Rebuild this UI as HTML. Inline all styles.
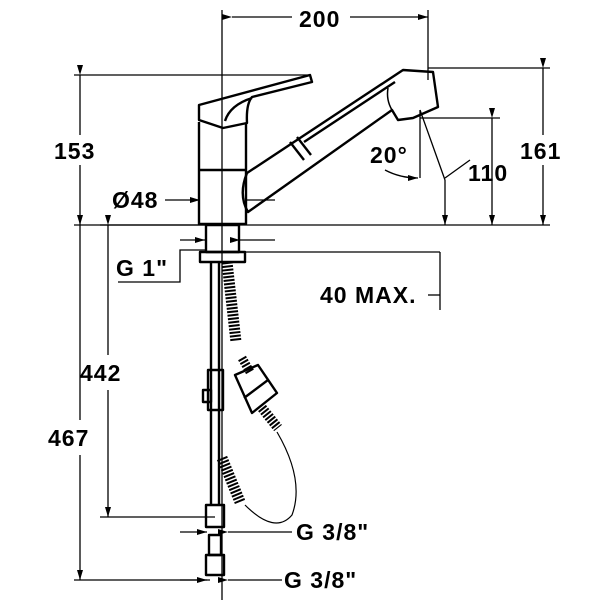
<!DOCTYPE html>
<html><head><style>body{margin:0;background:#fff}svg{display:block}text{font-family:"Liberation Sans",sans-serif;font-weight:bold;fill:#000;letter-spacing:1px}</style></head>
<body>
<svg width="600" height="600" viewBox="0 0 600 600" xmlns="http://www.w3.org/2000/svg">
<defs><marker id="a" markerWidth="10" markerHeight="6" refX="10" refY="3" orient="auto" markerUnits="userSpaceOnUse"><path d="M0,0 L10,3 L0,6z" fill="#000"/></marker></defs>
<g stroke="#000" stroke-width="1.3" fill="none">
<line x1="222" y1="10" x2="222" y2="600"/>
<line x1="428" y1="10" x2="428" y2="80"/>
<line x1="232" y1="17" x2="292" y2="17" marker-start="url(#a)"/>
<line x1="350" y1="17" x2="428" y2="17" marker-end="url(#a)"/>
<line x1="74" y1="75" x2="310" y2="75"/>
<line x1="74" y1="225" x2="550" y2="225"/>
<line x1="80" y1="75" x2="80" y2="135" marker-start="url(#a)"/>
<line x1="80" y1="165" x2="80" y2="225" marker-end="url(#a)"/>
<line x1="428" y1="68" x2="550" y2="68"/>
<line x1="543" y1="68" x2="543" y2="135" marker-start="url(#a)"/>
<line x1="543" y1="165" x2="543" y2="225" marker-end="url(#a)"/>
<line x1="420" y1="118" x2="500" y2="118"/>
<line x1="492" y1="118" x2="492" y2="225" marker-start="url(#a)" marker-end="url(#a)"/>
<line x1="445" y1="180" x2="445" y2="225" marker-end="url(#a)"/>
<line x1="420" y1="110" x2="420" y2="178"/>
<line x1="420" y1="110" x2="445" y2="180"/>
<path d="M385,170 Q400,178 418,178" marker-end="url(#a)"/>
<line x1="445" y1="178" x2="470" y2="160"/>
<line x1="165" y1="200" x2="200" y2="200" marker-end="url(#a)"/>
<line x1="245" y1="200" x2="275" y2="200"/>
<line x1="180" y1="240" x2="205" y2="240" marker-end="url(#a)"/>
<line x1="240" y1="240" x2="275" y2="240" marker-start="url(#a)"/>
<polyline points="118,282 180,282 180,250 205,250"/>
<line x1="245" y1="252" x2="440" y2="252"/>
<line x1="428" y1="295" x2="440" y2="295"/>
<line x1="440" y1="252" x2="440" y2="310"/>
<line x1="100" y1="225" x2="215" y2="225"/>
<line x1="108" y1="225" x2="108" y2="355" marker-start="url(#a)"/>
<line x1="108" y1="390" x2="108" y2="517" marker-end="url(#a)"/>
<line x1="80" y1="225" x2="80" y2="420"/>
<line x1="80" y1="455" x2="80" y2="580" marker-end="url(#a)"/>
<line x1="100" y1="517" x2="215" y2="517"/>
<line x1="74" y1="580" x2="210" y2="580"/>
<line x1="180" y1="532" x2="207" y2="532" marker-end="url(#a)"/>
<line x1="228" y1="532" x2="292" y2="532" marker-start="url(#a)"/>
<line x1="180" y1="580" x2="207" y2="580" marker-end="url(#a)"/>
<line x1="228" y1="580" x2="282" y2="580" marker-start="url(#a)"/>
</g>
<g stroke="#000" stroke-width="2.4" fill="none" stroke-linejoin="round">
<path d="M199,122 L199,224 L246,224 L246,124"/>
<line x1="199" y1="170" x2="246" y2="170"/>
<path d="M199,105 L310,75 L312,82 L252,97 Q246,104 247,123 L223,128 L199,120 Z"/>
<path d="M225,121 Q230,105 252,98"/>
<path d="M247,173 L403,70 L433,72 L438,107 L413,118 L398,120 L392,110 L248,212 Q238,195 247,173 Z"/>
<line x1="290" y1="142" x2="304" y2="160"/>
<line x1="297" y1="137" x2="311" y2="155"/>
<line x1="304" y1="142" x2="395" y2="82"/>
<path d="M388,88 Q386,100 392,110" stroke-width="1.5"/>
<rect x="206" y="225" width="33" height="27"/>
<rect x="200" y="252" width="45" height="10"/>
<line x1="211" y1="262" x2="211" y2="505"/>
<line x1="219" y1="262" x2="219" y2="505"/>
<rect x="208" y="370" width="15" height="40"/>
<rect x="203" y="390" width="8" height="12"/>
<path d="M227,262 L236,342" stroke-width="11" stroke-dasharray="2 1.5"/>
<path d="M222,458 L240,502" stroke-width="11" stroke-dasharray="2 1.5"/>
<path d="M235,375 L258,365 L277,393 L252,413 Z"/>
<line x1="244" y1="398" x2="268" y2="380"/>
<path d="M242,358 L250,372" stroke-width="9" stroke-dasharray="2 1.5"/>
<path d="M262,408 L278,428" stroke-width="10" stroke-dasharray="2 1.5"/>
<path d="M277,432 Q305,480 292,515 Q275,535 245,505" stroke-width="1.2"/>
<rect x="206" y="505" width="18" height="22"/>
<rect x="209" y="535" width="12" height="20"/>
<rect x="206" y="555" width="18" height="20"/>
</g>
<g font-size="23">
<text x="299" y="27">200</text>
<text x="54" y="159">153</text>
<text x="520" y="159">161</text>
<text x="468" y="181">110</text>
<text x="370" y="163">20°</text>
<text x="112" y="208">Ø48</text>
<text x="116" y="276">G 1"</text>
<text x="320" y="303">40 MAX.</text>
<text x="80" y="381">442</text>
<text x="48" y="446">467</text>
<text x="296" y="540">G 3/8"</text>
<text x="284" y="588">G 3/8"</text>
</g>
</svg>
</body></html>
